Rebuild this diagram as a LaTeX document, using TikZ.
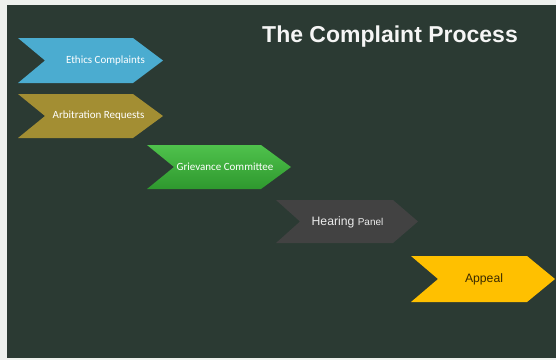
\documentclass[tikz,border=0pt]{standalone}
\usepackage{fontspec}
\setmainfont{Liberation Sans}
\newfontfamily\calibrifont{Carlito}
\newfontfamily\arialfont{Liberation Sans}
\definecolor{pagebg}{HTML}{EEF1EE}
\definecolor{slidebg}{HTML}{2B3A33}
\definecolor{ethicsblue}{HTML}{4BACD0}
\definecolor{arbolive}{HTML}{A38E33}
\definecolor{grievtop}{HTML}{4FC24C}
\definecolor{grievbot}{HTML}{2E982E}
\definecolor{hearinggray}{HTML}{424242}
\definecolor{appealgold}{HTML}{FFC000}
\definecolor{appealtext}{HTML}{3A2A00}
\definecolor{titlewhite}{HTML}{F5F5F5}
% chevron: #1 left x, #2 top y, #3 right (tip) x, #4 bottom y, #5 tip depth, #6 notch depth
\newcommand{\chevronpath}[6]{%
  (#1,#2) -- (#3-#5,#2) -- (#3,{(#2+#4)/2}) -- (#3-#5,#4) -- (#1,#4)
  -- (#1+#6,{(#2+#4)/2}) -- cycle}
\tikzset{
  cbtext/.style={font=\calibrifont\fontsize{11}{13}\selectfont, text=white, inner sep=0pt},
  artext/.style={font=\arialfont\fontsize{12.2}{14}\selectfont, inner sep=0pt},
}
\begin{document}
\begin{tikzpicture}[x=1pt,y=-1pt]
  \useasboundingbox (0,0) rectangle (556,360);
  \fill[pagebg] (0,0) rectangle (556,360);
  \fill[slidebg] (7,4.5) rectangle (556,358);

  % title
  \node[anchor=base west, inner sep=0pt, text=titlewhite,
        font=\arialfont\bfseries\fontsize{23}{27}\selectfont] (title) at (262,42)
        {The Complaint Process};

  % process chevrons
  \fill[ethicsblue] \chevronpath{18}{38}{163}{83}{30}{27};
  \fill[arbolive] \chevronpath{18}{94}{163}{138}{30}{27};
  \shade[top color=grievtop, bottom color=grievbot] \chevronpath{147}{145}{291}{189}{30}{27};
  \fill[hearinggray] \chevronpath{276}{200}{418}{243}{25}{24};
  \fill[appealgold] \chevronpath{411}{256}{555}{302}{28}{27};

  % labels
  \node[cbtext] (ethics) at (105.5,61) {Ethics Complaints};
  \node[cbtext] (arbitration) at (98.5,116) {Arbitration Requests};
  \node[cbtext] (grievance) at (225,167) {Grievance Committee};
  \node[artext, text=white!92!black] (hearing) at (347.5,222)
        {Hearing {\fontsize{10}{12}\selectfont Panel}};
  \node[artext, text=appealtext] (appeal) at (484,279) {Appeal};
\end{tikzpicture}
\end{document}
